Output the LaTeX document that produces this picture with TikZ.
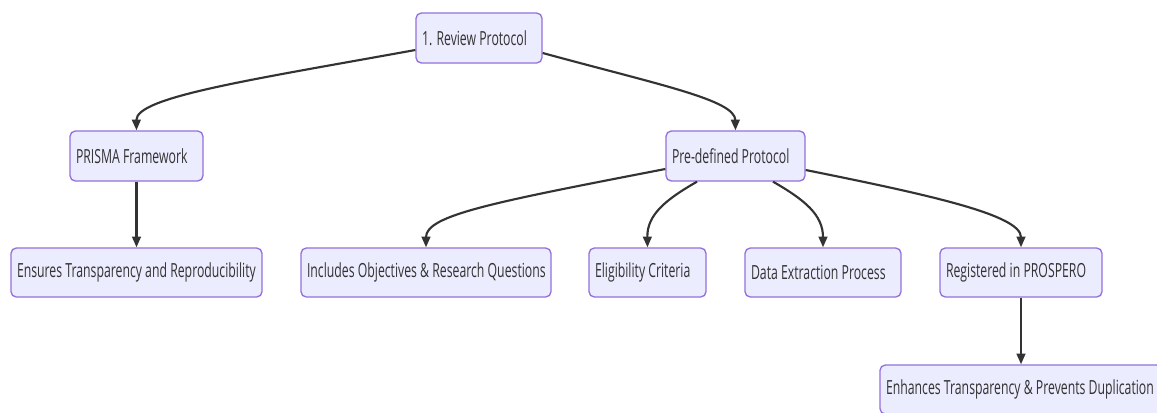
\documentclass[tikz,border=0pt]{standalone}
\usepackage{fontspec}
\setmainfont{Open Sans}[FakeStretch=0.63]
\usetikzlibrary{arrows.meta}
\definecolor{boxfill}{HTML}{ECECFF}
\definecolor{boxline}{HTML}{9370DB}
\definecolor{ink}{HTML}{333333}
% left-set label of a fixed width inside a box
\newcommand{\boxlabel}[2]{\makebox[#1][l]{#2}}
\tikzset{
  box/.style={draw=boxline, fill=boxfill, line width=1pt, rounded corners=4pt,
    text=ink, font=\fontsize{14.6}{17}\selectfont, inner xsep=4.5pt, inner ysep=0pt},
  link/.style={draw=ink, line width=1.6pt,
    -{Triangle[length=8pt,width=6.5pt]}},
}
\begin{document}
\begin{tikzpicture}[x=0.75pt,y=-0.75pt]
\useasboundingbox[fill=white] (0,0) rectangle (1157,412);
\begin{scope}
\clip (0,0) rectangle (1157,412);
% nodes
\node[box, minimum height=37.5pt] (rev) at (479,38) {\boxlabel{85.5pt}{1. Review Protocol}};
\node[box, minimum height=37.5pt] (prisma) at (136.5,156) {\boxlabel{90.75pt}{PRISMA Framework}};
\node[box, minimum height=37.5pt] (pre) at (735.5,156) {\boxlabel{95.25pt}{Pre-defined Protocol}};
\node[box, minimum height=36.75pt] (ens) at (136.5,272.5) {\boxlabel{179.25pt}{Ensures Transparency and Reproducibility}};
\node[box, minimum height=36.75pt] (inc) at (426,272.5) {\boxlabel{178.5pt}{Includes Objectives \& Research Questions}};
\node[box, minimum height=36.75pt] (eli) at (647.5,272.5) {\boxlabel{78.75pt}{Eligibility Criteria}};
\node[box, minimum height=36.75pt] (dat) at (823,272.5) {\boxlabel{108pt}{Data Extraction Process}};
\node[box, minimum height=36.75pt] (reg) at (1021,272.5) {\boxlabel{112.5pt}{Registered in PROSPERO}};
\node[box, minimum height=36.75pt] (enh) at (1021,389.5) {\boxlabel{202.5pt}{Enhances Transparency \& Prevents Duplication}};
% connectors
\draw[link] (rev.west |- 0,50) .. controls (250,80) and (136,97) .. (prisma.north);
\draw[link] (rev.east |- 0,53) .. controls (660,85) and (735,100) .. (pre.north);
\draw[link] (prisma.south) -- (ens.north);
\draw[link] (pre.west |- 0,169) .. controls (495,202) and (426,215) .. (inc.north);
\draw[link] (pre.south -| 697,0) .. controls (665,200) and (647,215) .. (eli.north);
\draw[link] (pre.south -| 773,0) .. controls (805,200) and (823,215) .. (dat.north);
\draw[link] (pre.east |- 0,170) .. controls (930,195) and (1021,215) .. (reg.north);
\draw[link] (reg.south) -- (enh.north);
\end{scope}
\end{tikzpicture}
\end{document}
